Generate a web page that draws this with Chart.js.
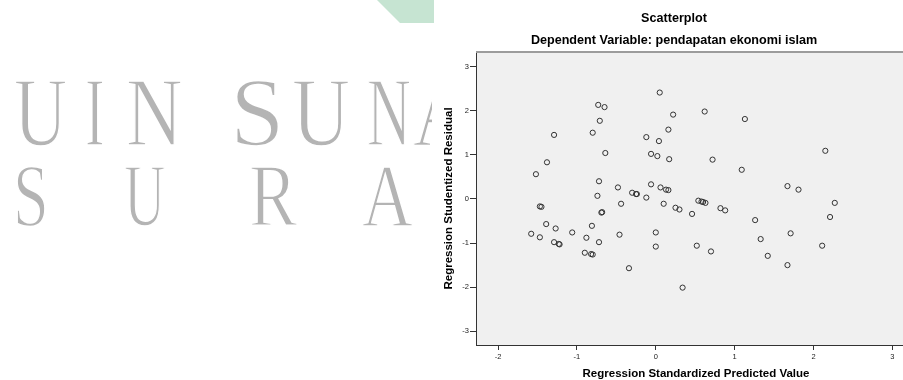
<!DOCTYPE html>
<html>
<head>
<meta charset="utf-8">
<script src="https://cdn.jsdelivr.net/npm/chart.js@4.4.1/dist/chart.umd.min.js"></script>
<style>
html,body{margin:0;padding:0;width:903px;height:380px;overflow:hidden;background:#fff;}
#wm{position:absolute;left:0;top:0;width:432px;height:380px;overflow:hidden;}
.l{position:absolute;font-family:"Liberation Serif","Times New Roman",serif;color:#b4b4b4;-webkit-text-stroke:1.6px #fff;line-height:1;transform-origin:0 0;filter:blur(0.6px);white-space:pre;}
.r1{font-size:98px;top:63px;}
.r2{font-size:88px;top:151.6px;}
#green{position:absolute;left:0;top:0;width:434px;height:30px;background:#c6e4d2;clip-path:polygon(377px 0,434px 0,434px 23px,400px 23px);}
#wrap{position:absolute;left:432px;top:0;width:488px;height:380px;}
</style>
</head>
<body>
<div id="green"></div>
<div id="wm">
  <span class="l r1" style="left:14px;transform:scaleX(0.75)">U</span>
  <span class="l r1" style="left:85px;transform:scaleX(0.6)">I</span>
  <span class="l r1" style="left:126px;transform:scaleX(0.8)">N</span>
  <span class="l r1" style="left:230px;transform:scaleX(1.0)">S</span>
  <span class="l r1" style="left:292px;transform:scaleX(0.82)">U</span>
  <span class="l r1" style="left:367px;transform:scaleX(0.62)">N</span>
  <span class="l r1" style="left:413px;transform:scaleX(0.8)">A</span>
  <span class="l r2" style="left:13px;transform:scaleX(0.73)">S</span>
  <span class="l r2" style="left:124px;transform:scaleX(0.65)">U</span>
  <span class="l r2" style="left:249px;transform:scaleX(0.82)">R</span>
  <span class="l r2" style="left:362px;transform:scaleX(0.8)">A</span>
</div>
<div id="wrap"><canvas id="c" width="488" height="380"></canvas></div>
<script>
// ---- data ----
const titleText = "Scatterplot";
const subtitleText = "Dependent Variable: pendapatan ekonomi islam";
const xAxisTitle = "Regression Standardized Predicted Value";
const yAxisTitle = "Regression Studentized Residual";
const xTicks = [-2, -1, 0, 1, 2, 3];
const yTicks = [-3, -2, -1, 0, 1, 2, 3];
const xRange = [-2.28, 3.30];
const yRange = [-3.31, 3.33];
const predicted = [
  -1.52, -1.38, -1.29, -1.47, -1.45, -0.80, -0.73, -0.65, -0.71, -0.64,
  -0.72, -0.74, -0.69, -0.68, -0.48, -0.44, -0.30, -0.25, -0.24, -0.12,
  -0.12, 0.05, 0.04, -0.06, 0.02, 0.16, 0.17, -0.06, 0.06, 0.13,
  0.16, 0.10, 0.22, 0.62, 1.13, 0.72, 1.09, 2.15, 1.67, 1.81,
  2.27, 2.21, 0.25, 0.30, 0.46, 0.54, 0.58, 0.60, 0.63, 0.82,
  0.88, 1.26, -1.39, -1.27, -1.58, -1.47, -1.29, -1.23, -1.22, -1.06,
  -0.88, -0.81, -0.72, -0.90, -0.82, -0.80, -0.46, -0.34, 0.00, 0.00,
  0.34, 0.52, 0.70, 1.33, 1.42, 1.71, 1.67, 2.11
];
const residual = [
  0.56, 0.83, 1.45, -0.17, -0.18, 1.50, 2.13, 2.08, 1.77, 1.04,
  0.40, 0.07, -0.31, -0.30, 0.26, -0.11, 0.14, 0.11, 0.11, 0.03,
  1.40, 2.41, 1.31, 1.02, 0.97, 1.57, 0.90, 0.33, 0.26, 0.21,
  0.20, -0.11, 1.91, 1.98, 1.81, 0.89, 0.66, 1.09, 0.29, 0.21,
  -0.09, -0.41, -0.20, -0.24, -0.34, -0.04, -0.06, -0.07, -0.09, -0.21,
  -0.26, -0.48, -0.57, -0.67, -0.79, -0.87, -0.98, -1.02, -1.03, -0.76,
  -0.88, -0.61, -0.98, -1.22, -1.25, -1.26, -0.81, -1.57, -0.76, -1.08,
  -2.01, -1.06, -1.19, -0.91, -1.29, -0.78, -1.50, -1.06
];

const points = predicted.map((x, i) => ({x: x, y: residual[i]}));

const frame = {
  id: 'frame',
  beforeDraw(chart) {
    const {ctx, chartArea: a} = chart;
    ctx.save();
    ctx.fillStyle = '#f0f0f0';
    ctx.fillRect(a.left, a.top, a.right - a.left, a.bottom - a.top);
    ctx.restore();
  },
  afterDraw(chart) {
    const {ctx, chartArea: a} = chart;
    ctx.save();
    ctx.strokeStyle = '#9c9c9c';
    ctx.lineWidth = 2;
    ctx.beginPath();
    ctx.moveTo(a.left, a.top);
    ctx.lineTo(a.right + 10, a.top);
    ctx.stroke();
    ctx.restore();
  }
};

const tickFont = {family: '"Liberation Sans", Arial, sans-serif', size: 7.5};
const boldFont = (s, lh) => ({family: '"Liberation Sans", Arial, sans-serif', size: s, weight: 'bold', lineHeight: lh});

new Chart(document.getElementById('c'), {
  type: 'scatter',
  data: {
    datasets: [{
      data: points,
      pointRadius: 2.6,
      pointHoverRadius: 2.6,
      borderColor: '#333333',
      backgroundColor: 'rgba(0,0,0,0)',
      borderWidth: 1
    }]
  },
  options: {
    responsive: false,
    animation: false,
    events: [],
    layout: {padding: {left: 0, right: 4, top: 0, bottom: 0}},
    plugins: {
      legend: {display: false},
      tooltip: {enabled: false},
      title: {display: true, text: titleText, color: '#000', font: boldFont(12.6, 1.2), padding: {top: 11.2, bottom: 0}},
      subtitle: {display: true, text: subtitleText, color: '#000', font: boldFont(12.6, 1.2), padding: {top: 6.9, bottom: 3.6}}
    },
    scales: {
      x: {
        type: 'linear', min: xRange[0], max: xRange[1],
        afterBuildTicks: s => { s.ticks = xTicks.map(v => ({value: v})); },
        afterFit: s => { s.height = 35; },
        grid: {drawOnChartArea: false, drawTicks: true, tickLength: 5, color: '#333'},
        border: {display: true, color: '#333', width: 1},
        ticks: {font: tickFont, color: '#222', padding: 2, maxRotation: 0},
        title: {display: true, text: xAxisTitle, color: '#000', font: boldFont(11.5, 1), padding: {top: 0, bottom: 0}}
      },
      y: {
        type: 'linear', min: yRange[0], max: yRange[1],
        afterBuildTicks: s => { s.ticks = yTicks.map(v => ({value: v})); },
        afterFit: s => { s.width = 44; },
        grid: {drawOnChartArea: false, drawTicks: true, tickLength: 6, color: '#333'},
        border: {display: true, color: '#333', width: 1},
        ticks: {font: tickFont, color: '#222', padding: 1},
        title: {display: true, text: yAxisTitle, color: '#000', font: boldFont(11.5, 1.2), padding: {top: 9.8, bottom: 0}}
      }
    }
  },
  plugins: [frame]
});
</script>
</body>
</html>
